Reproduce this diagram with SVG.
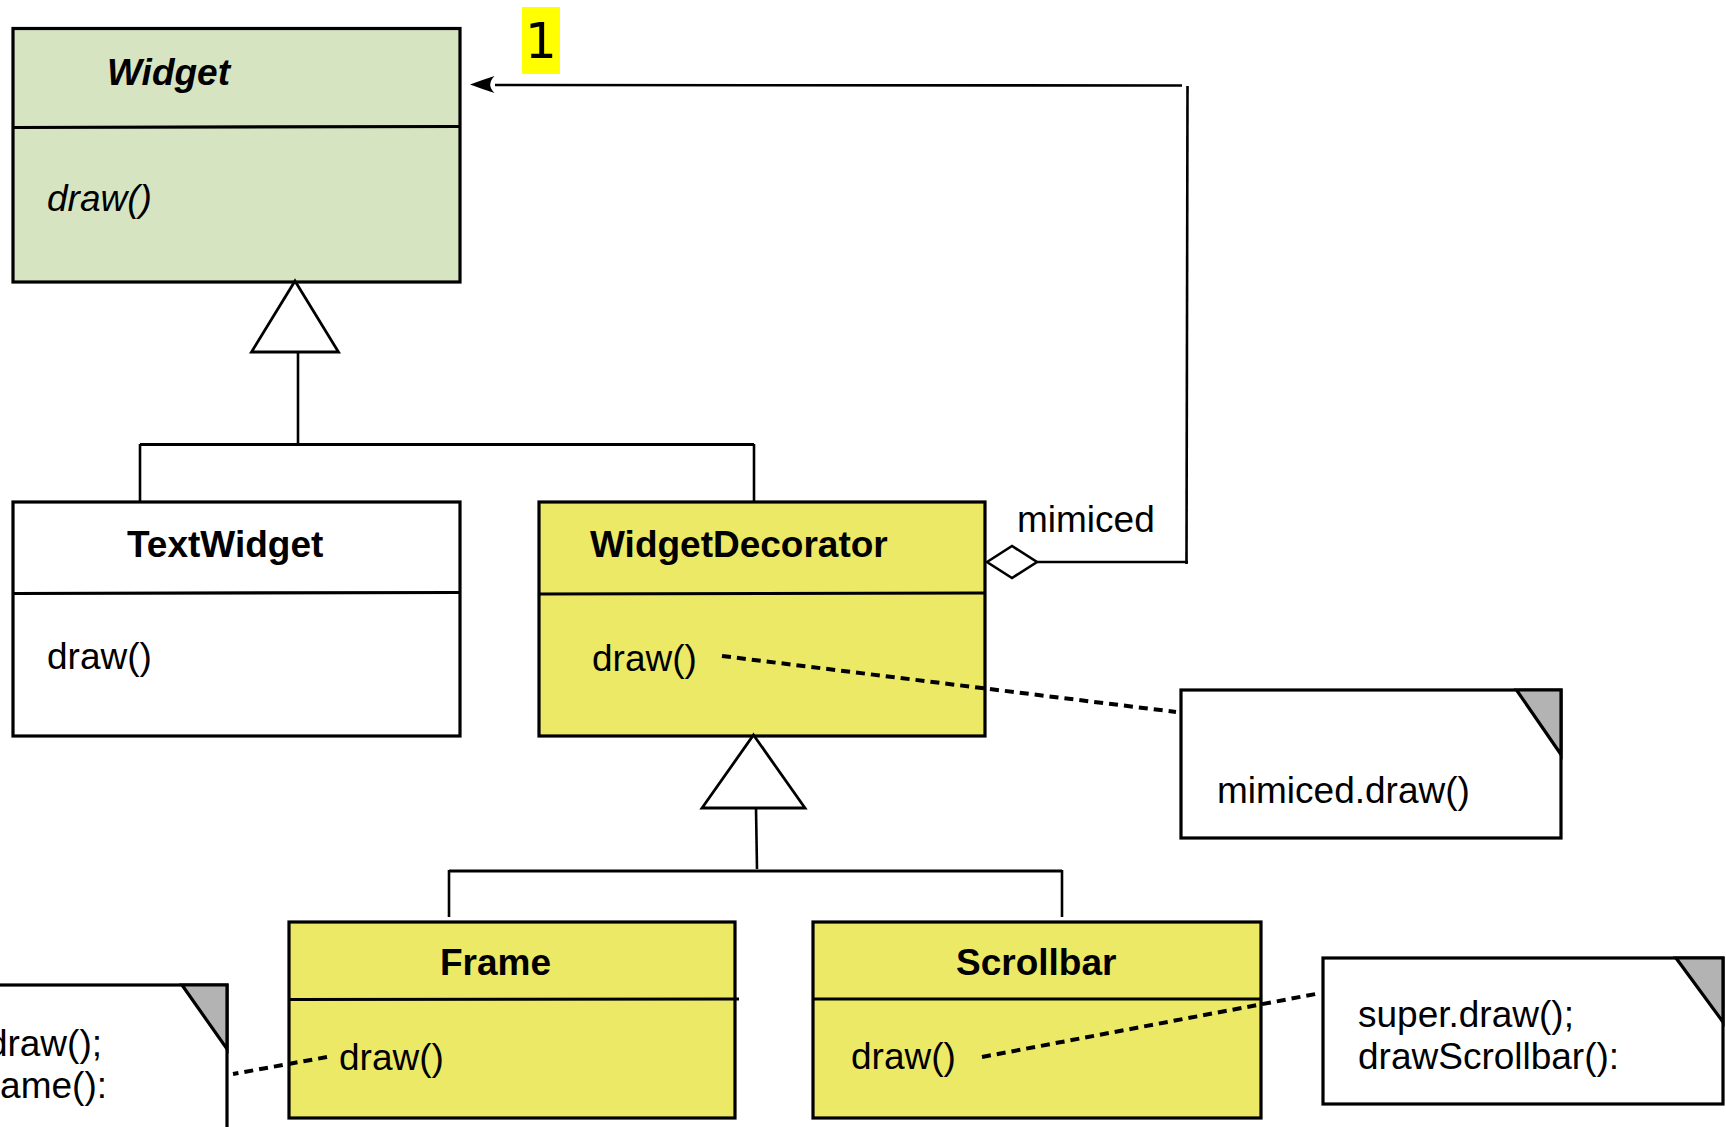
<svg xmlns="http://www.w3.org/2000/svg" width="1726" height="1127" viewBox="0 0 1726 1127">
<style>
.box{stroke:#000;stroke-width:3.2;}
.green{fill:#d7e4c1;}
.yellow{fill:#ece966;}
.white{fill:#fff;}
.div{stroke:#000;stroke-width:3.2;fill:none;}
.ln{stroke:#000;stroke-width:2.6;fill:none;}
.dot{stroke:#000;stroke-width:4;fill:none;stroke-dasharray:9 6;}
.tri{fill:#fff;stroke:#000;stroke-width:2.8;}
.corner{fill:#b3b3b3;stroke:#000;stroke-width:3.2;stroke-linejoin:miter;}
text{font-family:"Liberation Sans",Arial,sans-serif;font-size:37px;fill:#000;}
.title{font-weight:bold;}
</style>
<rect width="1726" height="1127" fill="#fff"/>
<g id="label-1">
  <rect x="522" y="7" width="38" height="67" fill="#ffff00"/>
  <text x="541" y="58" text-anchor="middle" style="font-family:'DejaVu Sans',sans-serif;font-size:50px">1</text>
</g>
<g id="widget">
  <rect class="box green" x="13" y="28.5" width="447" height="253.5"/>
  <path class="div" d="M13 127.5 L460 126.5"/>
  <text class="title" x="107" y="85" font-style="italic">Widget</text>
  <text x="47" y="211" font-style="italic">draw()</text>
</g>
<g id="textwidget">
  <rect class="box white" x="13" y="502" width="447" height="234"/>
  <path class="div" d="M13 593.5 L460 592.5"/>
  <text class="title" x="127" y="557">TextWidget</text>
  <text x="47" y="669">draw()</text>
</g>
<g id="widgetdecorator">
  <rect class="box yellow" x="539" y="502" width="446" height="234"/>
  <path class="div" d="M539 594 L985 593"/>
  <text class="title" x="590" y="557">WidgetDecorator</text>
  <text x="592" y="671">draw()</text>
</g>
<g id="mimiced-label">
  <text x="1017" y="532">mimiced</text>
</g>
<g id="frame">
  <rect class="box yellow" x="289" y="922" width="446" height="196"/>
  <path class="div" d="M289 999.5 L739 999"/>
  <text class="title" x="440" y="975">Frame</text>
  <text x="339" y="1070">draw()</text>
</g>
<g id="scrollbar">
  <rect class="box yellow" x="813" y="922" width="448" height="196"/>
  <path class="div" d="M813 999 L1261 999"/>
  <text class="title" x="956" y="975">Scrollbar</text>
  <text x="851" y="1069">draw()</text>
</g>
<g id="note-mimiced">
  <rect class="box white" x="1181" y="690" width="380" height="148"/>
  <path class="corner" d="M1516.5 690 L1561 690 L1561 754.5 Z"/>
  <text x="1217" y="803">mimiced.draw()</text>
</g>
<g id="note-scrollbar">
  <rect class="box white" x="1323" y="958" width="400" height="146"/>
  <path class="corner" d="M1676 958 L1723 958 L1723 1022 Z"/>
  <text x="1358" y="1027">super.draw();</text>
  <text x="1358" y="1069">drawScrollbar():</text>
</g>
<g id="note-frame">
  <rect class="box white" x="-10" y="985" width="237" height="160"/>
  <path class="corner" d="M182 985 L227 985 L227 1049 Z"/>
  <text x="102" y="1056" text-anchor="end">draw();</text>
  <text x="107" y="1098" text-anchor="end">ame():</text>
</g>
<g id="connectors">
  <path class="ln" d="M495 85 L1182 85.5"/>
  <path d="M470 84.5 Q482 80 494.5 76 Q486 84.5 494.5 93 Q482 89 470 84.5 Z" fill="#000"/>
  <path class="ln" d="M1187.5 86 L1186.5 564"/>
  <path class="ln" d="M1037 562 L1188 562"/>
  <path d="M987 562 L1012 546 L1037 562 L1012 578 Z" fill="#fff" stroke="#000" stroke-width="2.6"/>
  <path class="tri" d="M295 281 L338.5 352 L251.5 352 Z"/>
  <path class="ln" d="M298 352 L298 444"/>
  <path class="div" d="M140 444.5 L754 444.5"/>
  <path class="ln" d="M140 444 L140 502"/>
  <path class="ln" d="M754 444 L754 502"/>
  <path class="tri" d="M753.5 735 L805 808 L702 808 Z"/>
  <path class="ln" d="M756 808 L757 869"/>
  <path class="div" d="M449 871 L1062 871"/>
  <path class="ln" d="M449 870 L449 917"/>
  <path class="ln" d="M1062 870 L1062 917"/>
  <path class="dot" d="M722 656 L1176 712"/>
  <path class="dot" d="M982 1057 L1321 993"/>
  <path class="dot" d="M327 1057 L233 1074"/>
</g>
</svg>
